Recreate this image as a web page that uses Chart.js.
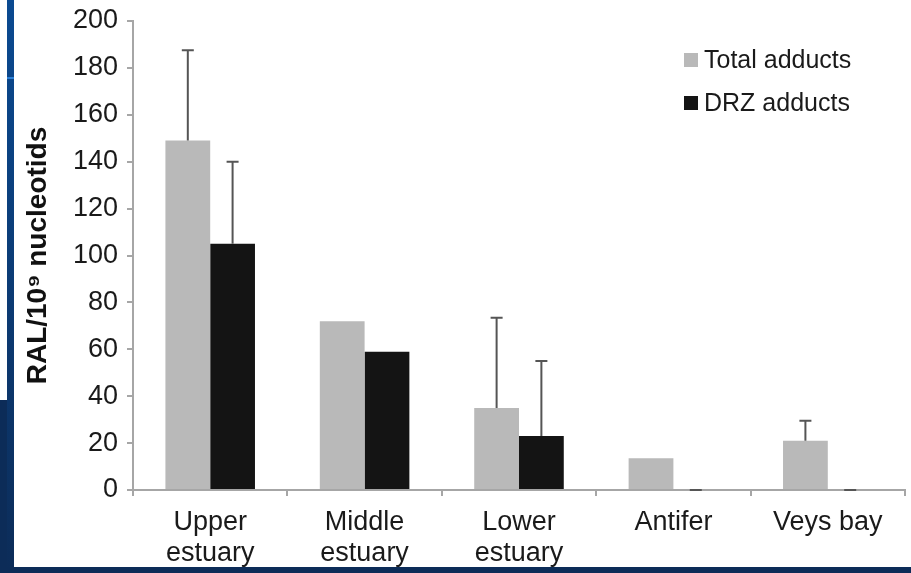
<!DOCTYPE html>
<html>
<head>
<meta charset="utf-8">
<script src="https://cdn.jsdelivr.net/npm/chart.js@4"></script>
<style>
  html, body { margin: 0; padding: 0; background: #fff; }
  #wrap { width: 911px; height: 573px; }
</style>
</head>
<body>
<div id="wrap"><canvas id="myChart" width="911" height="573"></canvas></div>
<script>
const categories = [['Upper', 'estuary'], ['Middle', 'estuary'], ['Lower', 'estuary'], 'Antifer', 'Veys bay'];
const totalAdducts = [149, 72, 35, 13.5, 21];
const totalErrors = [38.5, null, 38.5, null, 8.5];
const drzAdducts = [105, 59, 23, 0, 0];
const drzErrors = [35, null, 32, 0, 0];
const yTicks = [0, 20, 40, 60, 80, 100, 120, 140, 160, 180, 200];

const axisGray = '#a6a6a6';
const font = 'Liberation Sans, Arial, sans-serif';

// slide frame (blue border left and bottom)
const frame = {
    id: 'frame',
    beforeDraw(chart) {
        const c = chart.ctx;
        c.save();
        c.fillStyle = '#fff';
        c.fillRect(0, 0, chart.width, chart.height);
        c.restore();
    },
    afterDraw(chart) {
        const c = chart.ctx;
        const h = chart.height;
        c.save();
        const g = c.createLinearGradient(0, 0, 0, h);
        g.addColorStop(0, '#0b4a91');
        g.addColorStop(1, '#0c2c58');
        c.fillStyle = g;
        c.fillRect(7, 0, 7, h);
        c.fillStyle = '#0c2c58';
        c.fillRect(0, 400, 7, h - 400);
        c.fillRect(0, 567, chart.width, h - 567);
        c.fillStyle = '#2a7fd6';
        c.fillRect(7, 77, 7, 2);
        c.restore();
    }
};

// upper error bars
const errorBars = {
    id: 'errorBars',
    afterDatasetsDraw(chart) {
        const c = chart.ctx;
        const y = chart.scales.y;
        c.save();
        c.strokeStyle = '#555';
        c.lineWidth = 2;
        chart.data.datasets.forEach((ds, i) => {
            const meta = chart.getDatasetMeta(i);
            meta.data.forEach((bar, j) => {
                const e = ds.errors[j];
                if (e === null || e === undefined) return;
                const top = y.getPixelForValue(ds.data[j] + e);
                c.beginPath();
                c.moveTo(bar.x, bar.y);
                c.lineTo(bar.x, top);
                c.moveTo(bar.x - 6, top);
                c.lineTo(bar.x + 6, top);
                c.stroke();
            });
        });
        c.restore();
    }
};

// legend inside the plot, top right
const innerLegend = {
    id: 'innerLegend',
    afterDraw(chart) {
        const c = chart.ctx;
        c.save();
        c.font = '25px ' + font;
        c.textBaseline = 'middle';
        chart.data.datasets.forEach((ds, i) => {
            const cy = 60 + i * 43;
            c.fillStyle = ds.backgroundColor;
            c.fillRect(684, cy - 7, 14, 14);
            c.fillStyle = '#1a1a1a';
            c.fillText(ds.label, 704, cy + 1);
        });
        c.restore();
    }
};

new Chart(document.getElementById('myChart'), {
    type: 'bar',
    data: {
        labels: categories,
        datasets: [{
            label: 'Total adducts',
            data: totalAdducts,
            errors: totalErrors,
            backgroundColor: '#b9b9b9'
        }, {
            label: 'DRZ adducts',
            data: drzAdducts,
            errors: drzErrors,
            backgroundColor: '#141414'
        }]
    },
    options: {
        responsive: false,
        animation: false,
        categoryPercentage: 0.58,
        barPercentage: 1,
        layout: { padding: { top: 21, right: 6, left: 0, bottom: 0 } },
        plugins: {
            legend: { display: false },
            tooltip: { enabled: false }
        },
        scales: {
            x: {
                grid: { offset: true, drawOnChartArea: false, color: axisGray, tickLength: 6, lineWidth: 2 },
                border: { color: axisGray, width: 2 },
                ticks: { color: '#1a1a1a', font: { family: font, size: 27, lineHeight: 1.15 }, padding: 11, maxRotation: 0 },
                afterFit(scale) { scale.height = 83; }
            },
            y: {
                min: 0,
                max: 200,
                afterBuildTicks(scale) { scale.ticks = yTicks.map(v => ({ value: v })); },
                grid: { drawOnChartArea: false, color: axisGray, tickLength: 6, lineWidth: 2 },
                border: { color: axisGray, width: 2 },
                ticks: { color: '#1a1a1a', font: { family: font, size: 27 }, padding: 9 },
                title: {
                    display: true,
                    text: 'RAL/10\u2079 nucleotids',
                    color: '#111',
                    font: { family: font, size: 28, weight: 'bold', lineHeight: 1.2 },
                    padding: { top: 21, bottom: 8 }
                },
                afterFit(scale) {
                    scale.width = 133;
                    scale.paddingTop = 0;
                    scale.paddingBottom = 0;
                }
            }
        }
    },
    plugins: [frame, errorBars, innerLegend]
});
</script>
</body>
</html>
